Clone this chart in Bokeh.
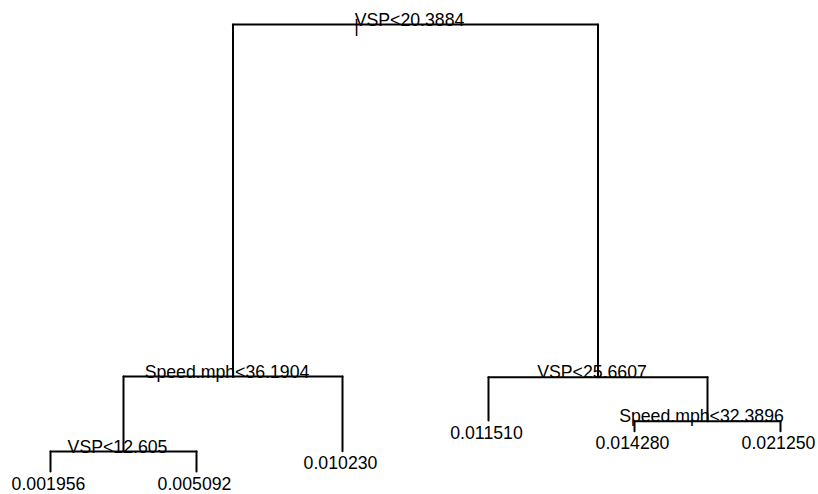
from bokeh.plotting import figure
from bokeh.models import Range1d, ColumnDataSource
from bokeh.embed import file_html
from bokeh.resources import INLINE
from bokeh.core.properties import value

# Regression tree, R-style node numbering (children of n are 2n and 2n+1)
node_ids = [1, 2, 3, 4, 5, 6, 7, 8, 9, 14, 15]
node_dev = [1.000, 0.2125, 0.211, 0.0447, 0.0454, 0.114, 0.1125, 0.0, 0.0, 0.090, 0.090]
split_nodes = [1, 2, 3, 4, 7]
split_labels = ["VSP<20.3884", "Speed.mph<36.1904", "VSP<25.6607", "VSP<12.605", "Speed.mph<32.3896"]
leaf_nodes = [8, 9, 5, 6, 14, 15]
leaf_values = ["0.001956", "0.005092", "0.010230", "0.011510", "0.014280", "0.021250"]

dev = dict(zip(node_ids, node_dev))
xpos = {}
for i, n in enumerate(leaf_nodes):
    xpos[n] = i + 1.0
for n in sorted(split_nodes, reverse=True):
    xpos[n] = (xpos[2 * n] + xpos[2 * n + 1]) / 2.0

x0, y0, x1, y1 = [], [], [], []
for n in split_nodes:
    l, r = 2 * n, 2 * n + 1
    x0.append(xpos[l]); y0.append(dev[n]); x1.append(xpos[r]); y1.append(dev[n])
    for c in (l, r):
        x0.append(xpos[c]); y0.append(dev[n]); x1.append(xpos[c]); y1.append(dev[c])
seg = ColumnDataSource(dict(x0=x0, y0=y0, x1=x1, y1=y1))

W, H = 818, 494
px_per_x = 146.0
xs = 1 - 50 / px_per_x
px_per_y = 447.0
ytop = 471 / px_per_y
ybot = (471 - H) / px_per_y

p = figure(width=W, height=H, output_backend="svg", toolbar_location=None,
           x_range=Range1d(xs, xs + W / px_per_x), y_range=Range1d(ybot, ytop),
           min_border=0)
p.axis.visible = False
p.grid.visible = False
p.outline_line_color = None
p.background_fill_color = "white"
p.border_fill_color = "white"

p.segment(x0="x0", y0="y0", x1="x1", y1="y1", source=seg, line_color="black",
          line_width=2, line_cap="round")

font = value("Liberation Sans")
fs = "17.7px"
sp = ColumnDataSource(dict(x=[xpos[n] for n in split_nodes], y=[dev[n] for n in split_nodes],
                           t=split_labels))
p.text(x="x", y="y", text="t", source=sp, text_align="center", text_baseline="alphabetic",
       x_offset=-6, y_offset=-5, text_font=font, text_font_size=fs, text_color="black")

lf = ColumnDataSource(dict(x=[xpos[n] for n in leaf_nodes], y=[dev[n] for n in leaf_nodes],
                           t=leaf_values))
p.text(x="x", y="y", text="t", source=lf, text_align="center", text_baseline="top",
       x_offset=-2, y_offset=5, text_font=font, text_font_size=fs, text_color="black")

# root marker
p.text(x=[xpos[1]], y=[dev[1]], text=["|"], text_align="center", text_baseline="alphabetic",
       x_offset=-59, y_offset=1, text_font=font, text_font_size=fs, text_color="black")

open("out.html", "w").write(file_html(p, INLINE))
